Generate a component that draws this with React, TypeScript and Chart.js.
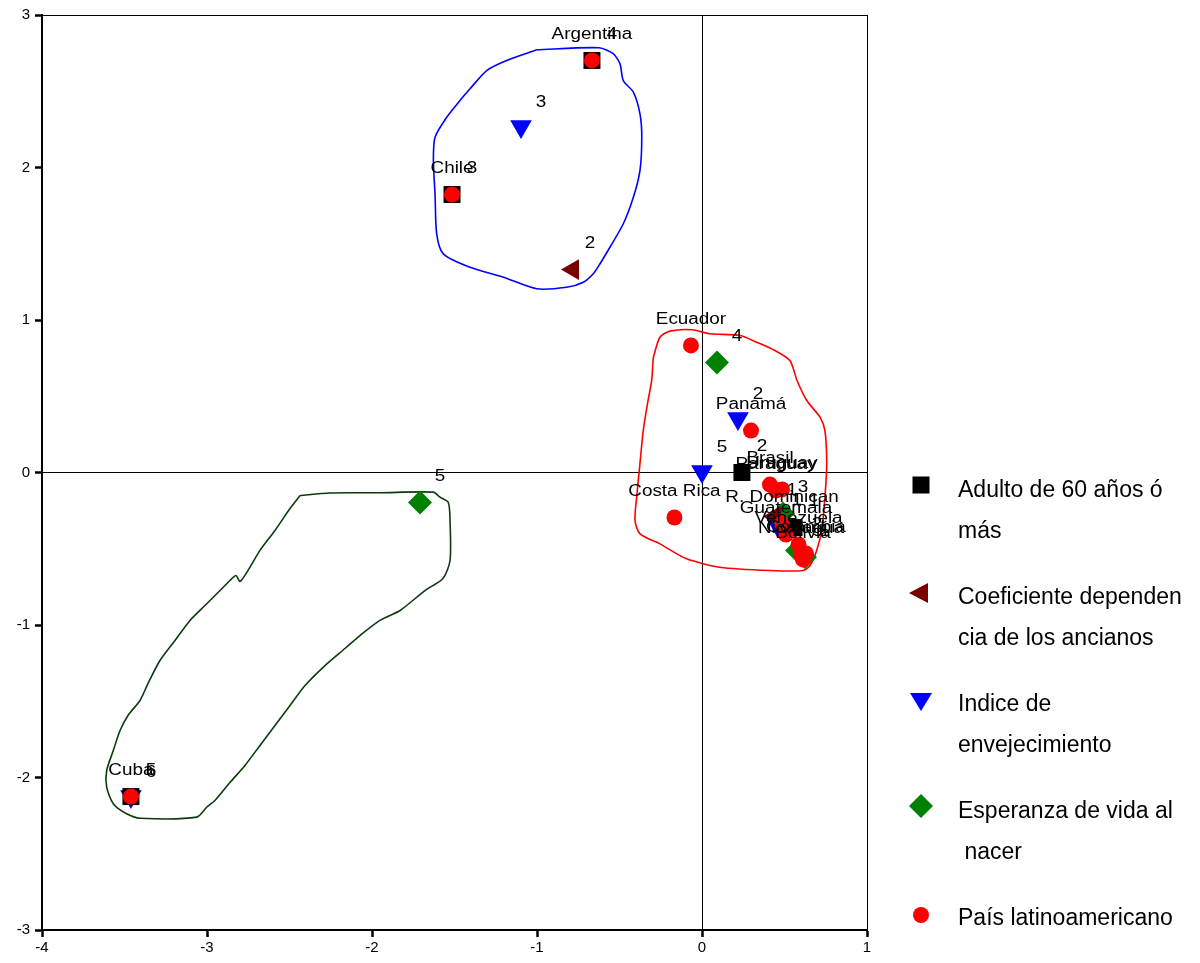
import React, { useEffect, useRef } from 'react';
import { Chart, registerables } from 'chart.js';

Chart.register(...registerables);

const FONT = '"Liberation Sans", Arial, sans-serif';

// Axis ranges
const xMin = -4;
const xMax = 1;
const yMin = -3;
const yMax = 3;

// País latinoamericano (red circles)
const countryNames = ['Argentina', 'Chile', 'Cuba', 'Ecuador', 'Panamá', 'Costa Rica', 'Brasil', 'Paraguay', 'Uruguay', 'R. Dominican', 'Guatemala', 'Venezuela', 'Nicaragua', 'Colombia', 'Bolivia'];
const countryX = [-0.667, -1.515, -3.461, -0.067, 0.297, -0.167, 0.412, 0.448, 0.485, 0.485, 0.509, 0.585, 0.6, 0.63, 0.612];
const countryY = [2.702, 1.823, -2.125, 0.833, 0.275, -0.295, -0.079, -0.118, -0.111, -0.334, -0.407, -0.472, -0.538, -0.531, -0.57];

// Adulto de 60 años ó más (black squares)
const adultoLabels = ['4', '3', '5', '2', '1'];
const adultoX = [-0.667, -1.515, -3.461, 0.242, 0.558];
const adultoY = [2.702, 1.823, -2.125, 0, -0.361];

// Coeficiente dependencia de los ancianos (dark red triangles)
const coefLabels = ['2', '1'];
const coefX = [-0.782, 0.442];
const coefY = [1.331, -0.289];

// Indice de envejecimiento (blue triangles)
const indiceLabels = ['3', '2', '5', '6', '1'];
const indiceX = [-1.097, 0.218, 0, -3.461, 0.455];
const indiceY = [2.269, 0.354, 0.007, -2.125, -0.341];

// Esperanza de vida al nacer (green diamonds)
const esperanzaLabels = ['5', '4', '3', '2', '1'];
const esperanzaX = [-1.709, 0.091, 0.491, 0.576, 0.624];
const esperanzaY = [-0.197, 0.721, -0.269, -0.511, -0.556];

// Group contours
const blueX = [-1.002, -0.624, -0.538, -0.497, -0.477, -0.416, -0.376, -0.365, -0.376, -0.416, -0.477, -0.558, -0.618, -0.659, -0.719, -0.82, -1.002, -1.204, -1.406, -1.568, -1.608, -1.618, -1.628, -1.618, -1.547, -1.467, -1.406, -1.305, -1.184, -1.002];
const blueY = [2.772, 2.785, 2.746, 2.68, 2.57, 2.494, 2.352, 2.199, 1.98, 1.805, 1.631, 1.477, 1.369, 1.303, 1.248, 1.215, 1.205, 1.281, 1.346, 1.434, 1.565, 1.828, 2.046, 2.199, 2.33, 2.439, 2.516, 2.636, 2.702, 2.772];

const redX = [-0.295, -0.255, -0.194, -0.062, 0.048, 0.23, 0.332, 0.442, 0.533, 0.576, 0.635, 0.715, 0.745, 0.756, 0.745, 0.725, 0.695, 0.655, 0.612, 0.412, 0.109, -0.093, -0.255, -0.376, -0.406, -0.396, -0.376, -0.356, -0.327, -0.305, -0.295];
const redY = [0.756, 0.887, 0.927, 0.936, 0.91, 0.898, 0.854, 0.8, 0.734, 0.603, 0.472, 0.363, 0.275, 0.059, -0.162, -0.38, -0.511, -0.61, -0.643, -0.643, -0.621, -0.566, -0.468, -0.402, -0.315, -0.162, 0.059, 0.275, 0.472, 0.603, 0.756];

const greenX = [-2.436, -2.255, -1.952, -1.628, -1.588, -1.538, -1.527, -1.527, -1.57, -1.679, -1.83, -1.952, -2.073, -2.164, -2.285, -2.406, -2.497, -2.588, -2.679, -2.77, -2.861, -2.952, -3.002, -3.062, -3.406, -3.487, -3.568, -3.608, -3.608, -3.568, -3.527, -3.479, -3.406, -3.358, -3.285, -3.194, -3.103, -3.012, -2.921, -2.861, -2.824, -2.8, -2.752, -2.679, -2.588, -2.497, -2.436];
const greenY = [-0.151, -0.134, -0.133, -0.129, -0.162, -0.195, -0.315, -0.577, -0.695, -0.774, -0.905, -0.97, -1.069, -1.154, -1.266, -1.397, -1.528, -1.659, -1.79, -1.921, -2.033, -2.151, -2.195, -2.26, -2.267, -2.238, -2.172, -2.064, -1.954, -1.823, -1.692, -1.593, -1.495, -1.384, -1.233, -1.102, -0.97, -0.872, -0.774, -0.708, -0.675, -0.715, -0.643, -0.511, -0.38, -0.236, -0.151];

// Legend
const legendTexts = [
  ['Adulto de 60 años ó', 'más'],
  ['Coeficiente dependen', 'cia de los ancianos'],
  ['Indice de', 'envejecimiento'],
  ['Esperanza de vida al', ' nacer'],
  ['País latinoamericano'],
];

const zip = (xs: number[], ys: number[]) => xs.map((x, i) => ({ x, y: ys[i] }));

const labelPlugin = {
  id: 'pointLabels',
  afterDatasetsDraw(chart: any) {
    const ctx = chart.ctx;
    chart.data.datasets.forEach((ds: any, i: number) => {
      if (!ds.pointLabels) return;
      const meta = chart.getDatasetMeta(i);
      meta.data.forEach((el: any, j: number) => {
        const t = ds.pointLabels[j];
        if (!t) return;
        ctx.save();
        ctx.translate(el.x + ds.labelDx, el.y + ds.labelDy);
        ctx.scale(1.18, 1);
        ctx.font = `16px ${FONT}`;
        ctx.fillStyle = '#000';
        ctx.textAlign = 'center';
        ctx.textBaseline = 'middle';
        ctx.fillText(t, 0, 0);
        ctx.restore();
      });
    });
  },
};

const legendPlugin = {
  id: 'customLegend',
  afterDraw(chart: any) {
    const ctx = chart.ctx;
    const mx = 921;
    const tx = 958;
    const firstBase = [497, 604, 711, 818, 925];
    const markerY = [485, 593, 702, 806, 915];
    ctx.save();
    // markers
    ctx.fillStyle = '#000000';
    ctx.fillRect(mx - 8.5, markerY[0] - 8.5, 17, 17);
    ctx.fillStyle = '#7a0000';
    ctx.beginPath();
    ctx.moveTo(mx - 12, markerY[1]);
    ctx.lineTo(mx + 7, markerY[1] - 10);
    ctx.lineTo(mx + 7, markerY[1] + 10);
    ctx.closePath();
    ctx.fill();
    ctx.fillStyle = '#0000ff';
    ctx.beginPath();
    ctx.moveTo(mx - 11, markerY[2] - 9);
    ctx.lineTo(mx + 11, markerY[2] - 9);
    ctx.lineTo(mx, markerY[2] + 9);
    ctx.closePath();
    ctx.fill();
    ctx.fillStyle = '#008000';
    ctx.beginPath();
    ctx.moveTo(mx, markerY[3] - 12);
    ctx.lineTo(mx + 12, markerY[3]);
    ctx.lineTo(mx, markerY[3] + 12);
    ctx.lineTo(mx - 12, markerY[3]);
    ctx.closePath();
    ctx.fill();
    ctx.fillStyle = '#ff0000';
    ctx.beginPath();
    ctx.arc(mx, markerY[4], 8, 0, Math.PI * 2);
    ctx.fill();
    // texts
    ctx.fillStyle = '#000';
    ctx.font = `23px ${FONT}`;
    ctx.textAlign = 'left';
    ctx.textBaseline = 'alphabetic';
    legendTexts.forEach((lines, i) => {
      lines.forEach((line, k) => {
        ctx.fillText(line, tx, firstBase[i] + k * 41);
      });
    });
    ctx.restore();
  },
};

export default function App() {
  const canvasRef = useRef<HTMLCanvasElement | null>(null);

  useEffect(() => {
    document.body.style.margin = '0';
    const canvas = canvasRef.current;
    if (!canvas) return;

    const countryDs: any = {
      label: 'País latinoamericano',
      data: zip(countryX, countryY),
      pointStyle: 'circle',
      pointRadius: 8,
      backgroundColor: '#ff0000',
      borderWidth: 0,
      order: 0,
      pointLabels: countryNames,
      labelDx: 0,
      labelDy: -26,
    };
    const adultoDs: any = {
      label: 'Adulto de 60 años ó más',
      data: zip(adultoX, adultoY),
      pointStyle: 'rect',
      pointRadius: 12,
      backgroundColor: '#000000',
      borderWidth: 0,
      order: 1,
      pointLabels: adultoLabels,
      labelDx: 20,
      labelDy: -26,
    };
    const coefDs: any = {
      label: 'Coeficiente dependencia de los ancianos',
      data: zip(coefX, coefY),
      pointStyle: 'triangle',
      rotation: 270,
      pointRadius: 12,
      backgroundColor: '#7a0000',
      borderWidth: 0,
      order: 2,
      pointLabels: coefLabels,
      labelDx: 17,
      labelDy: -26,
    };
    const indiceDs: any = {
      label: 'Indice de envejecimiento',
      data: zip(indiceX, indiceY),
      pointStyle: 'triangle',
      rotation: 180,
      pointRadius: 12.5,
      backgroundColor: '#0000ff',
      borderWidth: 0,
      order: 3,
      pointLabels: indiceLabels,
      labelDx: 20,
      labelDy: -24,
    };
    const esperanzaDs: any = {
      label: 'Esperanza de vida al nacer',
      data: zip(esperanzaX, esperanzaY),
      pointStyle: 'rectRot',
      pointRadius: 12,
      backgroundColor: '#008000',
      borderWidth: 0,
      order: 4,
      pointLabels: esperanzaLabels,
      labelDx: 20,
      labelDy: -26,
    };
    const contour = (xs: number[], ys: number[], color: string): any => ({
      label: '',
      data: zip(xs, ys),
      showLine: true,
      pointRadius: 0,
      borderColor: color,
      borderWidth: 1.6,
      tension: 0.25,
      fill: false,
      order: 5,
    });

    const chart = new Chart(canvas, {
      type: 'scatter',
      data: {
        datasets: [
          countryDs,
          adultoDs,
          coefDs,
          indiceDs,
          esperanzaDs,
          contour(blueX, blueY, '#0000ff'),
          contour(redX, redY, '#ff0000'),
          contour(greenX, greenY, '#0b3b0b'),
        ],
      },
      options: {
        animation: false,
        responsive: true,
        maintainAspectRatio: false,
        events: [],
        layout: { padding: { left: 0, top: 15, right: 333, bottom: 0 } },
        plugins: {
          legend: { display: false },
          tooltip: { enabled: false },
        },
        scales: {
          x: {
            type: 'linear',
            min: xMin,
            max: xMax,
            afterFit: (s: any) => {
              s.height = 33;
            },
            ticks: {
              stepSize: 1,
              color: '#000',
              font: { family: FONT, size: 15 },
              padding: 2,
              maxRotation: 0,
              autoSkip: false,
            },
            grid: {
              drawOnChartArea: true,
              color: (c: any) => (c.tick && (c.tick.value === 0 || c.tick.value === xMax) ? '#000' : 'rgba(0,0,0,0)'),
              lineWidth: 1,
              tickColor: '#000',
              tickLength: 7,
              tickWidth: 2.5,
            },
            border: { display: true, color: '#000', width: 2 },
          },
          y: {
            type: 'linear',
            min: yMin,
            max: yMax,
            afterFit: (s: any) => {
              s.width = 42;
            },
            ticks: {
              stepSize: 1,
              color: '#000',
              font: { family: FONT, size: 15 },
              padding: 5,
              autoSkip: false,
            },
            grid: {
              drawOnChartArea: true,
              color: (c: any) => (c.tick && (c.tick.value === 0 || c.tick.value === yMax) ? '#000' : 'rgba(0,0,0,0)'),
              lineWidth: 1,
              tickColor: '#000',
              tickLength: 7,
              tickWidth: 2.5,
            },
            border: { display: true, color: '#000', width: 2 },
          },
        },
      } as any,
      plugins: [labelPlugin, legendPlugin],
    });

    return () => {
      chart.destroy();
    };
  }, []);

  return (
    <div style={{ position: 'relative', width: '1200px', height: '963px', background: '#fff' }}>
      <canvas ref={canvasRef} />
    </div>
  );
}
